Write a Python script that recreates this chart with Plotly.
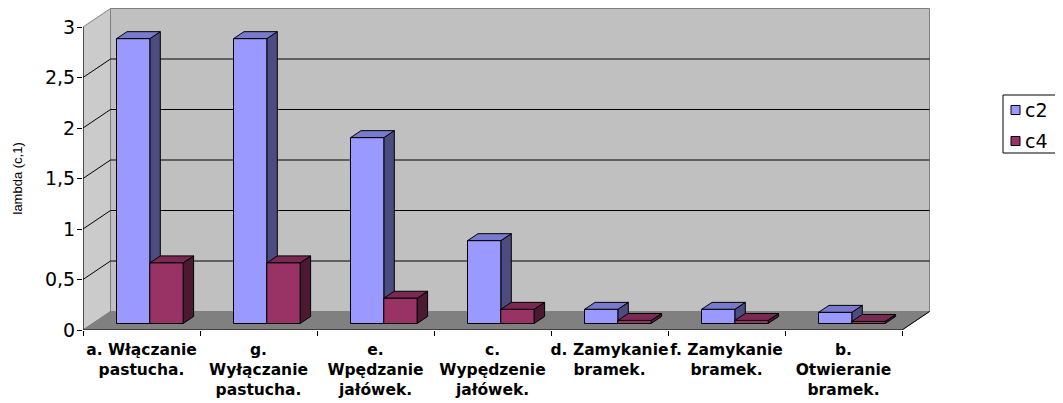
import plotly.graph_objects as go

# ---------------- data ----------------
categories = [
    "a. Włączanie<br>pastucha.",
    "g.<br>Wyłączanie<br>pastucha.",
    "e.<br>Wpędzanie<br>jałówek.",
    "c.<br>Wypędzenie<br>jałówek.",
    "d. Zamykanie<br>bramek.",
    "f. Zamykanie<br>bramek.",
    "b.<br>Otwieranie<br>bramek.",
]
c2 = [2.82, 2.82, 1.84, 0.82, 0.14, 0.14, 0.11]
c4 = [0.60, 0.60, 0.25, 0.14, 0.03, 0.03, 0.02]
series_names = ["c2", "c4"]
y_ticks = [0, 0.5, 1, 1.5, 2, 2.5, 3]
y_tick_labels = ["0", "0,5", "1", "1,5", "2", "2,5", "3"]
y_title = "lambda (c,1)"

# ---------------- styling / geometry ----------------
BODY = 8                 # default page margin of the html body
W, H = 1063 - BODY, 403 - BODY
PX_CAT = 117.0           # px per category
PX_VAL = 101.0           # px per value unit
# plot area in page pixels
P_L, P_T, P_R, P_B = 83, 8, 931, 330
PLOT_W, PLOT_H = P_R - P_L, P_B - P_T
XMAX = PLOT_W / PX_CAT
YMAX = PLOT_H / PX_VAL
DX = 27.5 / PX_CAT       # wall depth (x)
DY = 18.5 / PX_VAL       # wall depth (y)
BAR_OFF = 33.5 / PX_CAT
BAR_W = 33.3 / PX_CAT
BASE = 6.5 / PX_VAL
BDX = 10.5 / PX_CAT
BDY = 7.0 / PX_VAL

front_cols = ["#9999FF", "#993366"]
top_cols = ["#7A7ACC", "#7A2952"]
side_cols = ["#4C4C80", "#4C1933"]

N = len(categories)
TOPV = y_ticks[-1]

fig = go.Figure()


def poly_trace(polys, fill, line_color="black", width=1):
    xs, ys = [], []
    for p in polys:
        for (x, y) in p:
            xs.append(x)
            ys.append(y)
        xs.append(p[0][0]); ys.append(p[0][1])
        xs.append(None); ys.append(None)
    return go.Scatter(x=xs, y=ys, mode="lines", fill="toself", fillcolor=fill,
                      line=dict(color=line_color, width=width),
                      hoverinfo="skip", showlegend=False)


# walls and floor
left_wall = [(0, 0), (DX, DY), (DX, TOPV + DY), (0, TOPV)]
back_wall = [(DX, DY), (N + DX, DY), (N + DX, TOPV + DY), (DX, TOPV + DY)]
floor = [(0, 0), (N, 0), (N + DX, DY), (DX, DY)]
fig.add_trace(poly_trace([left_wall], "#CBCBCB", "#808080"))
fig.add_trace(poly_trace([back_wall], "#C0C0C0", "#808080"))
fig.add_trace(poly_trace([floor], "#808080", "#808080"))

# gridlines (back wall + left wall diagonals)
gx, gy = [], []
for v in y_ticks[1:-1]:
    gx += [0, DX, N + DX, None]
    gy += [v, v + DY, v + DY, None]
fig.add_trace(go.Scatter(x=gx, y=gy, mode="lines", line=dict(color="black", width=1),
                         hoverinfo="skip", showlegend=False))

# axis lines (front edges)
fig.add_trace(go.Scatter(x=[0, 0, None, 0, N, N + DX], y=[TOPV, 0, None, 0, 0, DY],
                         mode="lines", line=dict(color="black", width=1),
                         hoverinfo="skip", showlegend=False))

# bars
for k, vals in enumerate([c2, c4]):
    sides, tops, fronts = [], [], []
    for i, v in enumerate(vals):
        x0 = i + BAR_OFF + k * BAR_W
        x1 = x0 + BAR_W
        y0 = BASE
        y1 = BASE + v
        fronts.append([(x0, y0), (x1, y0), (x1, y1), (x0, y1)])
        tops.append([(x0, y1), (x1, y1), (x1 + BDX, y1 + BDY), (x0 + BDX, y1 + BDY)])
        sides.append([(x1, y0), (x1 + BDX, y0 + BDY), (x1 + BDX, y1 + BDY), (x1, y1)])
    fig.add_trace(poly_trace(sides, side_cols[k]))
    fig.add_trace(poly_trace(tops, top_cols[k]))
    fig.add_trace(poly_trace(fronts, front_cols[k]))


# legend (drawn in paper coordinates, right of the plot)
def px_x(px):
    return (px - P_L) / PLOT_W


def px_y(py):
    return (P_B - py) / PLOT_H


LEG_L, LEG_R, LEG_T, LEG_B = 1003, 1060, 95, 153
shapes = [dict(type="rect", xref="paper", yref="paper",
               x0=px_x(LEG_L), x1=px_x(LEG_R), y0=px_y(LEG_B), y1=px_y(LEG_T),
               line=dict(color="black", width=1), fillcolor="white")]
annotations = []
item_y = [110, 141]
for k, name in enumerate(series_names):
    cy = item_y[k]
    shapes.append(dict(type="rect", xref="paper", yref="paper",
                       x0=px_x(1011), x1=px_x(1020), y0=px_y(cy + 4.5), y1=px_y(cy - 4.5),
                       line=dict(color="black", width=1), fillcolor=front_cols[k]))
    annotations.append(dict(text=name, xref="paper", yref="paper", x=px_x(1023), y=px_y(cy),
                            xanchor="left", yanchor="middle", showarrow=False,
                            font=dict(size=19, color="black",
                                      family="DejaVu Sans, sans-serif")))

# value-axis title, centred on the value range like the original
annotations.append(dict(text=y_title, xref="paper", yref="paper", x=px_x(17),
                        y=px_y((P_B + (P_B - TOPV * PX_VAL)) / 2),
                        xanchor="center", yanchor="middle", textangle=-90, showarrow=False,
                        font=dict(size=13, color="black")))

fig.update_layout(
    width=W, height=H,
    margin=dict(l=P_L - BODY, r=W - (P_R - BODY), t=P_T - BODY, b=H - (P_B - BODY),
                pad=0, autoexpand=False),
    paper_bgcolor="white", plot_bgcolor="white",
    separators=", ",
    font=dict(family="Liberation Sans, Arial, sans-serif", color="black"),
    showlegend=False,
    shapes=shapes,
    annotations=annotations,
    xaxis=dict(range=[0, XMAX], showgrid=False, zeroline=False, showline=False,
               automargin=False,
               tickmode="array", tickvals=[i + 0.5 for i in range(N)], ticktext=categories,
               ticks="", tickangle=0, ticklabelstandoff=8,
               tickfont=dict(family="DejaVu Sans, sans-serif", size=15.5, color="black",
                             weight="bold"),
               minor=dict(tickmode="array", tickvals=list(range(N + 1)), ticks="outside",
                          ticklen=5, tickcolor="black", tickwidth=1, showgrid=False),
               fixedrange=True),
    yaxis=dict(range=[0, YMAX], showgrid=False, zeroline=False, showline=False,
               automargin=False,
               tickmode="array", tickvals=y_ticks, ticktext=y_tick_labels,
               ticks="outside", ticklen=5, tickcolor="black", tickwidth=1,
               tickfont=dict(size=19, color="black", family="DejaVu Sans, sans-serif"),
               ticklabelstandoff=-2,
               fixedrange=True),
)

fig.write_html("out.html")
